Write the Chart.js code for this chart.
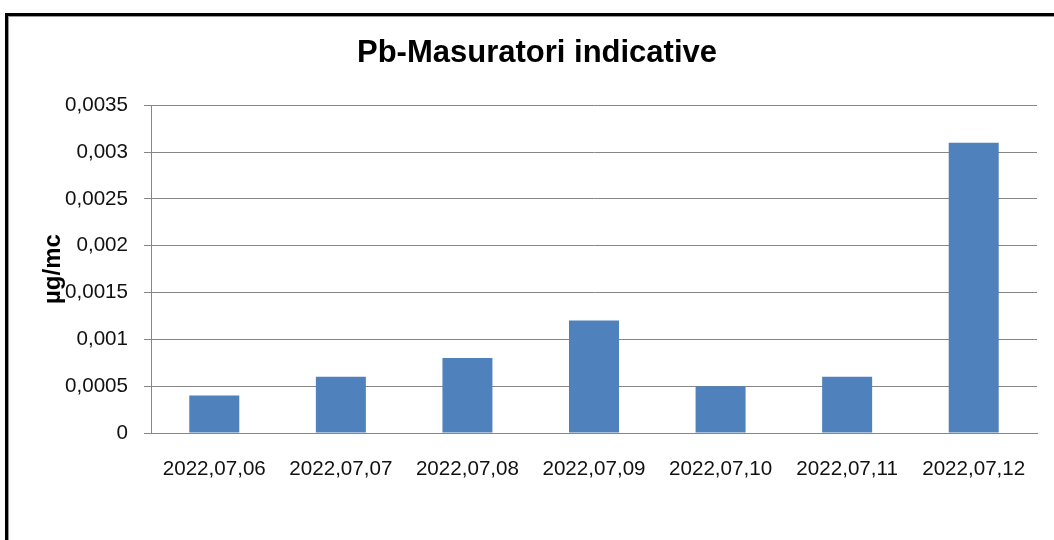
<!DOCTYPE html>
<html lang="ro">
<head>
  <meta charset="UTF-8">
  <title>Pb-Masuratori indicative</title>
  <script src="https://cdn.jsdelivr.net/npm/chart.js"></script>
  <style>
    html, body { margin: 0; padding: 0; background: #fff; }
    #wrap { width: 1054px; height: 540px; position: relative; }
  </style>
</head>
<body>
  <div id="wrap"><canvas id="pbChart" width="1054" height="540"></canvas></div>

  <script>
    // chart data
    const dates = ['2022,07,06', '2022,07,07', '2022,07,08', '2022,07,09', '2022,07,10', '2022,07,11', '2022,07,12'];
    const pbValues = [0.0004, 0.0006, 0.0008, 0.0012, 0.0005, 0.0006, 0.0031];
    const yTickLabels = ['0', '0,0005', '0,001', '0,0015', '0,002', '0,0025', '0,003', '0,0035'];

    const fontFamily = '"Liberation Sans", Arial, sans-serif';
    const gridGray = '#868686';

    // frame around the chart (only top and left edges are visible)
    const framePlugin = {
      id: 'frame',
      beforeDraw(chart) {
        const c = chart.ctx;
        c.save();
        c.fillStyle = '#fff';
        c.fillRect(0, 0, chart.width, chart.height);
        c.fillStyle = '#000';
        c.fillRect(5, 13, chart.width - 5, 3);
        c.fillRect(5, 13, 3, chart.height - 13);
        c.fillStyle = '#9a9a9a';
        c.fillRect(8, 16, chart.width - 8, 1);
        c.fillRect(8, 16, 1, chart.height - 16);
        c.restore();
      }
    };

    const ctx = document.getElementById('pbChart').getContext('2d');
    new Chart(ctx, {
      type: 'bar',
      data: {
        labels: dates,
        datasets: [{
          label: 'Pb',
          data: pbValues,
          backgroundColor: '#4F81BD',
          borderWidth: 0,
          barPercentage: 0.395,
          categoryPercentage: 1
        }]
      },
      options: {
        responsive: false,
        animation: false,
        // left/right padding also centres the title where the original has it
        layout: { padding: { top: 0, left: 37, right: 17, bottom: 0 } },
        plugins: {
          legend: { display: false },
          tooltip: { enabled: false },
          title: {
            display: true,
            text: 'Pb-Masuratori indicative',
            color: '#000',
            font: { family: fontFamily, size: 31, weight: 'bold' },
            padding: { top: 35, bottom: 33 }
          }
        },
        scales: {
          x: {
            grid: { display: false, drawTicks: false },
            border: { display: true, color: gridGray, width: 1 },
            ticks: {
              color: '#111',
              padding: 24,
              maxRotation: 0,
              autoSkip: false,
              font: { family: fontFamily, size: 20.6 }
            },
            afterFit(scale) { scale.height = 107; }
          },
          y: {
            min: 0,
            max: 0.0035,
            grid: { color: gridGray, tickLength: 7, lineWidth: 1 },
            border: { display: true, color: gridGray, width: 1 },
            ticks: {
              stepSize: 0.0005,
              color: '#111',
              padding: 16,
              font: { family: fontFamily, size: 20.6 },
              callback: (v, i) => yTickLabels[i]
            },
            title: {
              display: true,
              text: 'µg/mc',
              color: '#000',
              font: { family: fontFamily, size: 24, weight: 'bold' },
              padding: { top: 2, bottom: 0 }
            },
            afterFit(scale) { scale.width = 114; }
          }
        }
      },
      plugins: [framePlugin]
    });
  </script>
</body>
</html>
